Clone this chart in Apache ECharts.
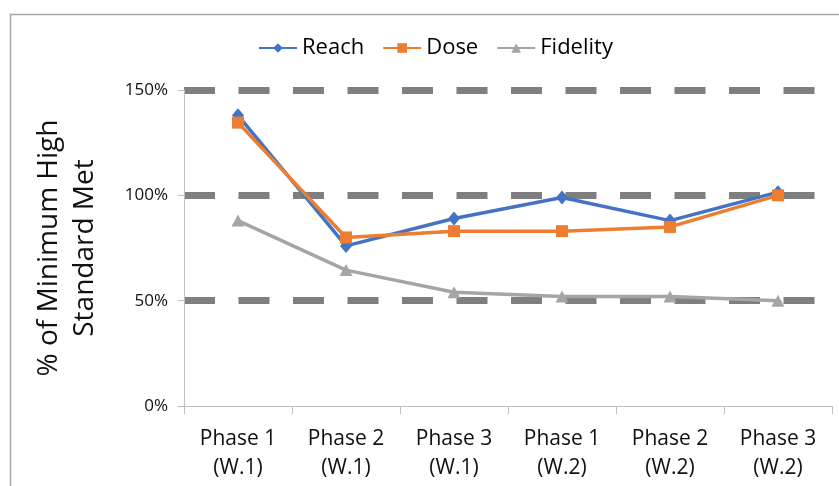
<!DOCTYPE html>
<html><head><meta charset="utf-8">
<script src="https://cdn.jsdelivr.net/npm/echarts@6/dist/echarts.min.js"></script>
<style>html,body{margin:0;padding:0;background:#fff}#c{width:839px;height:486px}</style>
</head><body><div id="c"></div>
<script>
const categories = ['Phase 1\n(W.1)', 'Phase 2\n(W.1)', 'Phase 3\n(W.1)', 'Phase 1\n(W.2)', 'Phase 2\n(W.2)', 'Phase 3\n(W.2)'];
const reach = [138, 76, 89, 99, 88, 101.5];
const dose = [134.5, 80, 83, 83, 85, 100];
const fidelity = [88, 64.5, 54, 52, 52, 50];
const yTicks = [0, 50, 100, 150];

const font = 'Open Sans';
const chart = echarts.init(document.getElementById('c'));
chart.setOption({
  animation: false,
  textStyle: { fontFamily: font },
  graphic: [{
    type: 'rect', shape: { x: 10.5, y: 14.5, width: 900, height: 600 },
    style: { fill: 'none', stroke: '#a6a6a6', lineWidth: 1.5 }, silent: true
  }],
  legend: {
    left: 253, top: 32, itemWidth: 38, itemHeight: 12, itemGap: 18,
    textStyle: { fontFamily: font, fontSize: 22, color: '#000' },
    data: ['Reach', 'Dose', 'Fidelity']
  },
  grid: { left: 184, right: 7, top: 90, bottom: 80, containLabel: false },
  xAxis: {
    type: 'category', data: categories, boundaryGap: true,
    axisLine: { lineStyle: { color: '#bfbfbf', width: 1 } },
    axisTick: { show: true, length: 8, lineStyle: { color: '#bfbfbf' } },
    axisLabel: { fontFamily: font, fontSize: 21, color: '#111', lineHeight: 29, margin: 19, interval: 0 }
  },
  yAxis: {
    type: 'value', min: yTicks[0], max: yTicks[yTicks.length - 1], interval: 50,
    name: '% of Minimum High\nStandard Met', nameLocation: 'middle', nameGap: 81,
    nameTextStyle: { fontFamily: font, fontSize: 28, color: '#111', lineHeight: 36 },
    axisLine: { show: true, lineStyle: { color: '#bfbfbf', width: 1 } },
    axisTick: { show: true, length: 6, lineStyle: { color: '#bfbfbf' } },
    axisLabel: { fontFamily: font, fontSize: 17, color: '#111', margin: 16, formatter: v => v + '%' },
    splitLine: { show: true, showMinLine: false, lineStyle: { color: '#7f7f7f', width: 7, type: [31, 23.5] } }
  },
  series: [
    { name: 'Reach', type: 'line', data: reach, symbol: 'diamond', symbolSize: [12, 14],
      lineStyle: { color: '#4472C4', width: 3.5 }, itemStyle: { color: '#4472C4' }, z: 3 },
    { name: 'Dose', type: 'line', data: dose, symbol: 'rect', symbolSize: 12,
      lineStyle: { color: '#ED7D31', width: 3.5 }, itemStyle: { color: '#ED7D31' }, z: 4 },
    { name: 'Fidelity', type: 'line', data: fidelity, symbol: 'triangle', symbolSize: [13, 12],
      lineStyle: { color: '#A5A5A5', width: 3.5 }, itemStyle: { color: '#A5A5A5' }, z: 2 }
  ]
});
</script></body></html>
